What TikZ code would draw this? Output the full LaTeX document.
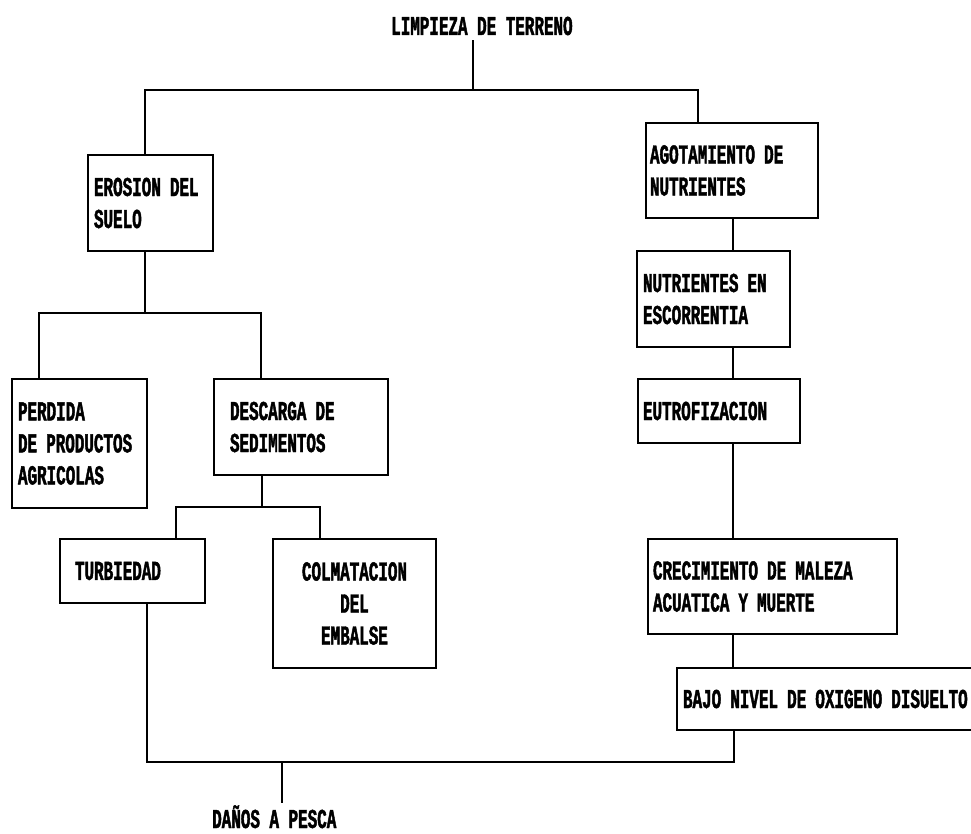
\documentclass[tikz,border=0pt]{standalone}
\usepackage{fontspec}
% Size the condensed typewriter face from its own metrics:
% capitals 18pt tall, 9.55pt per character.
\newfontfamily\rawfont{Liberation Mono}
\newlength\capH
\newlength\chW
\settoheight\capH{\rawfont\bfseries\fontsize{10}{12}\selectfont H}
\settowidth\chW{\rawfont\bfseries\fontsize{10}{12}\selectfont H}
\pgfmathsetmacro\fsz{180/\capH}
\pgfmathsetmacro\fst{95.5/(\chW*\fsz)}
\edef\loadboxfont{\noexpand\newfontfamily\noexpand\boxfont[FakeStretch=\fst,BoldFeatures={FakeBold=1.6}]{Liberation Mono}}
\loadboxfont
\begin{document}
\begin{tikzpicture}[x=1pt,y=-1pt,
  lbl/.style={font=\boxfont\bfseries\fontsize{\fsz}{32}\selectfont, inner sep=0pt},
  box/.style={draw, line width=2pt, anchor=north west, lbl, align=left, inner ysep=0pt},
  link/.style={line width=1.3pt}]
\useasboundingbox (0,0) rectangle (971,834);

% top and bottom labels
\node[lbl, anchor=base west, inner ysep=5pt] (title) at (391,35) {LIMPIEZA DE TERRENO};
\node[lbl, anchor=base west, inner ysep=2pt] (danos) at (212,828) {DAÑOS A PESCA};

% left branch
\node[box, minimum width=125pt, minimum height=96pt, text width=113pt, inner xsep=6pt] (ero) at (87,154) {EROSION DEL\\SUELO};
\node[box, minimum width=135pt, minimum height=129pt, text width=123pt, inner xsep=6pt] (perd) at (11,378) {PERDIDA\\DE PRODUCTOS\\AGRICOLAS};
\node[box, minimum width=174pt, minimum height=96pt, text width=142pt, inner xsep=16pt] (desc) at (213,378) {DESCARGA DE\\SEDIMENTOS};
\node[box, minimum width=145pt, minimum height=64pt, text width=115pt, inner xsep=15pt] (turb) at (59,538) {TURBIEDAD};
\node[box, minimum width=163pt, minimum height=129pt, text width=151pt, inner xsep=6pt, align=center] (colm) at (272,538)
  {COLMATACION\hspace*{26pt}\\DEL\hspace*{26pt}\\EMBALSE\hspace*{26pt}};

% right branch
\node[box, minimum width=172pt, minimum height=95pt, text width=164pt, inner xsep=4pt] (agot) at (645,122) {AGOTAMIENTO DE\\NUTRIENTES};
\node[box, minimum width=153pt, minimum height=96pt, text width=141pt, inner xsep=6pt] (nutr) at (636,250) {NUTRIENTES EN\\ESCORRENTIA};
\node[box, minimum width=162pt, minimum height=64pt, text width=152pt, inner xsep=5pt] (eutr) at (637,378) {EUTROFIZACION};
\node[box, minimum width=249pt, minimum height=95pt, text width=239pt, inner xsep=5pt] (crec) at (647,538) {CRECIMIENTO DE MALEZA\\ACUATICA Y MUERTE};
\node[box, minimum width=314pt, minimum height=62pt, text width=302pt, inner xsep=6pt] (bajo) at (676,667) {BAJO NIVEL DE OXIGENO DISUELTO};

% junction points
\coordinate (j0) at (473,90);
\coordinate (jl) at (145,90);
\coordinate (jr) at (698,90);
\coordinate (e1) at (145,313);
\coordinate (jl2) at (39,313);
\coordinate (jr2) at (261,313);
\coordinate (d1) at (262,507);
\coordinate (jl3) at (176,507);
\coordinate (jr3) at (320,507);
\coordinate (rc) at (733,0);
\coordinate (bl) at (147,762);
\coordinate (br) at (734,762);
\coordinate (bm) at (282,762);

% connectors
\draw[link] (title.south -| j0) -- (j0);
\draw[link] (ero.north -| jl) -- (jl) -- (jr) -- (agot.north -| jr);
\draw[link] (ero.south -| e1) -- (e1);
\draw[link] (perd.north -| jl2) -- (jl2) -- (jr2) -- (desc.north -| jr2);
\draw[link] (desc.south -| d1) -- (d1);
\draw[link] (turb.north -| jl3) -- (jl3) -- (jr3) -- (colm.north -| jr3);
\draw[link] (agot.south -| rc) -- (nutr.north -| rc);
\draw[link] (nutr.south -| rc) -- (eutr.north -| rc);
\draw[link] (eutr.south -| rc) -- (crec.north -| rc);
\draw[link] (crec.south -| rc) -- (bajo.north -| rc);
\draw[link] (turb.south -| bl) -- (bl) -- (br) -- (bajo.south -| br);
\draw[link] (bm) -- (danos.north -| bm);
\end{tikzpicture}
\end{document}
